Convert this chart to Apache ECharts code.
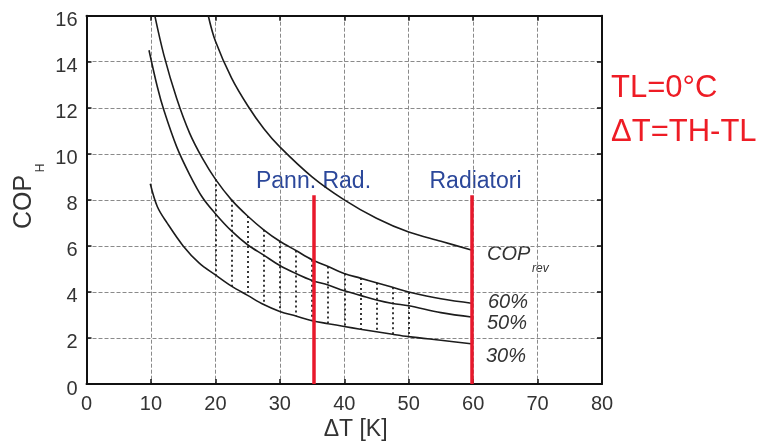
<!DOCTYPE html>
<html><head><meta charset="utf-8">
<script src="https://cdn.jsdelivr.net/npm/echarts@6/dist/echarts.min.js"></script>
<style>html,body{margin:0;padding:0;background:#fff}#c{width:762px;height:448px}</style>
</head><body><div id="c"></div>
<script>
// ---- data ----
const xTickMin = 0, xTickMax = 80, xTickStep = 10;
const yTickMin = 0, yTickMax = 16, yTickStep = 2;

const revX = [18.9, 20, 22.5, 25, 27.5, 30, 35, 40, 45, 50, 55, 60];
const revY = [16.0, 14.9, 13.3, 12.1, 11.1, 10.3, 9.0, 8.0, 7.2, 6.6, 6.2, 5.8];

const p60X = [10.6, 12, 14, 16, 18, 20, 22.5, 25, 27.5, 30, 32.5, 35, 37.5, 40, 42.5, 45, 47.5, 50, 55, 60];
const p60Y = [16.0, 14.3, 12.4, 10.9, 9.8, 8.9, 8.0, 7.3, 6.7, 6.2, 5.8, 5.4, 5.1, 4.8, 4.6, 4.4, 4.2, 4.0, 3.7, 3.5];

const p50X = [9.7, 11, 12, 14, 16, 18, 20, 22.5, 25, 27.5, 30, 32.5, 35, 37.5, 40, 42.5, 45, 47.5, 50, 55, 60];
const p50Y = [14.5, 12.9, 11.9, 10.3, 9.1, 8.1, 7.4, 6.65, 6.05, 5.6, 5.15, 4.8, 4.5, 4.3, 4.05, 3.85, 3.65, 3.5, 3.4, 3.1, 2.9];

const p30X = [9.9, 11, 12.5, 15, 17.5, 20, 22.5, 25, 27.5, 30, 32.5, 35, 37.5, 40, 42.5, 45, 47.5, 50, 55, 60];
const p30Y = [8.7, 7.7, 7.0, 6.0, 5.25, 4.74, 4.25, 3.85, 3.45, 3.15, 2.95, 2.75, 2.62, 2.5, 2.38, 2.27, 2.16, 2.06, 1.9, 1.74];

const hatchX = [20, 22.5, 25, 27.5, 30, 32.5, 35, 37.5, 40, 42.5, 45, 47.5, 50];
const redX = [35.2, 59.8];
const redTop = 8.2;

const curveNames = ['COP', '60%', '50%', '30%'];
const xName = 'ΔT [K]';
// ---------------------------------------

const zip = (xs, ys) => xs.map((x, i) => [x, ys[i]]);
const FONT = '"Liberation Sans", Arial, sans-serif';
const gridLine = { show: true, lineStyle: { color: '#8a8a8a', width: 1, type: [4, 2] } };
const frameLine = { show: true, onZero: false, lineStyle: { color: '#111', width: 2 } };
const tick = { show: true, inside: true, length: 5, lineStyle: { color: '#111', width: 1.5 } };

const curveStyle = { color: '#1c1c1c', width: 1.6 };
function curve(xs, ys) {
  return { type: 'line', data: zip(xs, ys), showSymbol: false, smooth: 0.35,
    lineStyle: curveStyle, itemStyle: { color: '#1c1c1c' }, silent: true, z: 3 };
}

const hatchData = hatchX.map(x => ({ coords: [[x, p60Y[p60X.indexOf(x)]], [x, p30Y[p30X.indexOf(x)]]] }));
const redData = redX.map(x => ({ coords: [[x, 0], [x, redTop]] }));

const chart = echarts.init(document.getElementById('c'), null, { renderer: 'canvas' });
chart.setOption({
  animation: false,
  backgroundColor: '#fff',
  grid: { left: 86.5, right: 160, top: 15.7, bottom: 64, containLabel: false },
  xAxis: [
    { type: 'value', min: xTickMin, max: xTickMax, interval: xTickStep, position: 'bottom',
      axisLine: frameLine, axisTick: tick, splitLine: gridLine,
      axisLabel: { color: '#333', fontSize: 20, fontFamily: FONT, margin: 10 } },
    { type: 'value', min: xTickMin, max: xTickMax, interval: xTickStep, position: 'top',
      axisLine: frameLine, axisTick: tick, splitLine: { show: false }, axisLabel: { show: false } }
  ],
  yAxis: [
    { type: 'value', min: yTickMin, max: yTickMax, interval: yTickStep, position: 'left',
      axisLine: frameLine, axisTick: tick, splitLine: gridLine,
      axisLabel: { color: '#333', fontSize: 20, fontFamily: FONT, margin: 9, verticalAlign: 'top', lineHeight: 10 } },
    { type: 'value', min: yTickMin, max: yTickMax, interval: yTickStep, position: 'right',
      axisLine: frameLine, axisTick: tick, splitLine: { show: false }, axisLabel: { show: false } }
  ],
  series: [
    curve(revX, revY),
    curve(p60X, p60Y),
    curve(p50X, p50Y),
    curve(p30X, p30Y),
    { type: 'lines', coordinateSystem: 'cartesian2d', data: hatchData, silent: true, z: 2,
      lineStyle: { color: '#222', width: 1.8, type: [2, 3], opacity: 1 } },
    { type: 'lines', coordinateSystem: 'cartesian2d', data: redData, silent: true, z: 5,
      lineStyle: { color: '#e8192c', width: 3.5, opacity: 1 } }
  ],
  graphic: [
    { type: 'text', x: 24, y: 202, rotation: Math.PI / 2,
      style: { text: 'COP', font: '25px ' + FONT, fill: '#333', textAlign: 'center', textVerticalAlign: 'middle' } },
    { type: 'text', x: 41, y: 168, rotation: Math.PI / 2,
      style: { text: 'H', font: '12px ' + FONT, fill: '#333', textAlign: 'center', textVerticalAlign: 'middle' } },
    { type: 'text', x: 355.6, y: 430,
      style: { text: xName, font: '23px ' + FONT, fill: '#333', textAlign: 'center', textVerticalAlign: 'middle' } },
    { type: 'text', x: 487, y: 254,
      style: { text: curveNames[0], font: 'italic 20px ' + FONT, fill: '#333', textAlign: 'left', textVerticalAlign: 'middle' } },
    { type: 'text', x: 532, y: 269,
      style: { text: 'rev', font: 'italic 12px ' + FONT, fill: '#333', textAlign: 'left', textVerticalAlign: 'middle' } },
    { type: 'text', x: 488, y: 302,
      style: { text: curveNames[1], font: 'italic 20px ' + FONT, fill: '#333', textAlign: 'left', textVerticalAlign: 'middle' } },
    { type: 'text', x: 487, y: 323.5,
      style: { text: curveNames[2], font: 'italic 20px ' + FONT, fill: '#333', textAlign: 'left', textVerticalAlign: 'middle' } },
    { type: 'text', x: 486, y: 356,
      style: { text: curveNames[3], font: 'italic 20px ' + FONT, fill: '#333', textAlign: 'left', textVerticalAlign: 'middle' } },
    { type: 'text', x: 313.5, y: 182,
      style: { text: 'Pann. Rad.', font: '23px ' + FONT, fill: '#2b479a', textAlign: 'center', textVerticalAlign: 'middle' } },
    { type: 'text', x: 475.5, y: 182,
      style: { text: 'Radiatori', font: '23px ' + FONT, fill: '#2b479a', textAlign: 'center', textVerticalAlign: 'middle' } },
    { type: 'text', x: 611, y: 88,
      style: { text: 'TL=0°C', font: '31px ' + FONT, fill: '#ee1c25', textAlign: 'left', textVerticalAlign: 'middle' } },
    { type: 'text', x: 611, y: 132,
      style: { text: 'ΔT=TH-TL', font: '31px ' + FONT, fill: '#ee1c25', textAlign: 'left', textVerticalAlign: 'middle' } }
  ]
});
</script>
</body></html>
